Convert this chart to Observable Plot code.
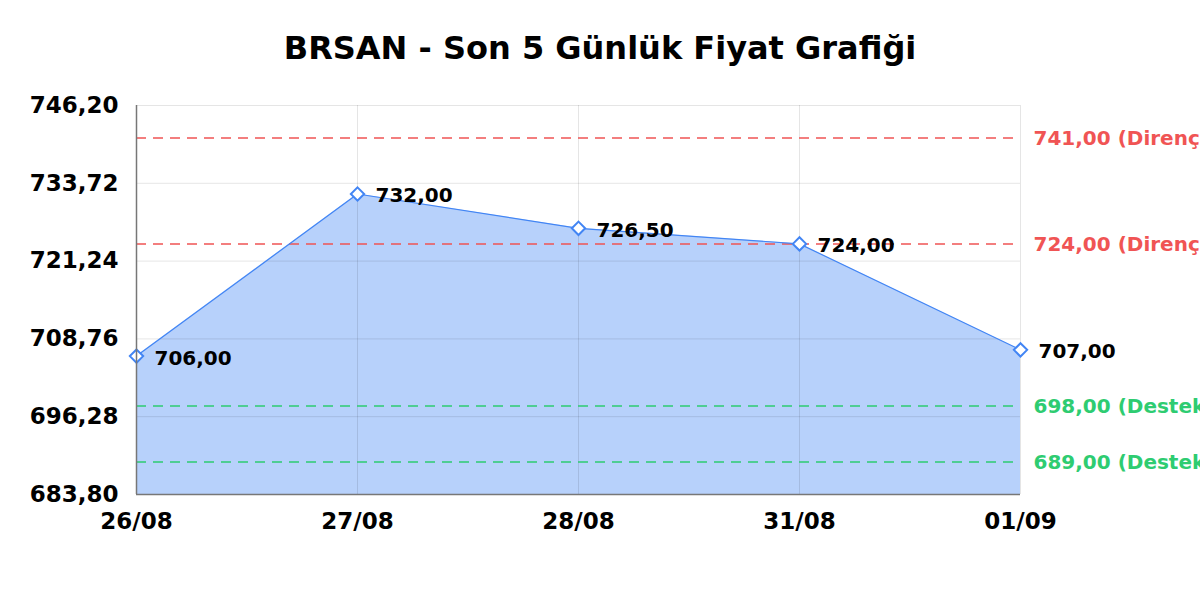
<!DOCTYPE html>
<html>
<head>
<meta charset="utf-8">
<script src="https://cdn.jsdelivr.net/npm/d3@7"></script>
<script src="https://cdn.jsdelivr.net/npm/@observablehq/plot@0.6"></script>
<style>
  html, body { margin: 0; padding: 0; background: #fff; overflow: hidden; width: 1200px; height: 600px; }
  #title { height: 80px; line-height: 96px; overflow: visible; text-align: center; font-family: "DejaVu Sans", sans-serif; font-weight: bold; font-size: 32px; color: #000; }
</style>
</head>
<body>
<div id="title">BRSAN - Son 5 Günlük Fiyat Grafiği</div>
<div id="chart"></div>
<script>
const dates = ["26/08", "27/08", "28/08", "31/08", "01/09"];
const prices = [706, 732, 726.5, 724, 707];
const yTicks = [683.8, 696.28, 708.76, 721.24, 733.72, 746.2];
const levelValues = [741, 724, 698, 689];
const levelTypes = ["Direnç", "Direnç", "Destek", "Destek"];

const fmt = v => v.toFixed(2).replace(".", ",");
const lineColor = "#4285f4";
const typeColor = {"Direnç": "#f05454", "Destek": "#2ecc71"};

const data = dates.map((d, i) => ({d, v: prices[i]}));
const levels = levelValues.map((v, i) => ({v, type: levelTypes[i]}));
const yMin = yTicks[0];
const yMax = yTicks[yTicks.length - 1];

const chart = Plot.plot({
  width: 1200,
  height: 520,
  marginTop: 25,
  marginBottom: 106,
  marginLeft: 136,
  marginRight: 180,
  x: {type: "point", domain: dates, padding: 0},
  y: {domain: [yMin, yMax]},
  color: {type: "identity"},
  style: {fontFamily: "DejaVu Sans, sans-serif", fontWeight: "bold", color: "#000", background: "#fff"},
  marks: [
    Plot.area(data, {x1: "d", y1: () => yMin, y2: "v", fill: lineColor, fillOpacity: 0.38}),
    Plot.gridY(yTicks, {stroke: "#000", strokeOpacity: 0.1, strokeWidth: 1}),
    Plot.gridX(dates, {stroke: "#000", strokeOpacity: 0.1, strokeWidth: 1}),
    Plot.ruleY(levels, {y: "v", stroke: d => typeColor[d.type], strokeDasharray: "10,7", strokeWidth: 1.5}),
    Plot.line(data, {x: "d", y: "v", stroke: lineColor, strokeWidth: 1.2}),
    Plot.dot(data, {x: "d", y: "v", symbol: "diamond2", r: 6, stroke: lineColor, fill: "white", strokeWidth: 2}),
    Plot.text(data, {x: "d", y: "v", text: d => fmt(d.v), textAnchor: "start", dx: 18, dy: 2, fontSize: 20, fill: "#000"}),
    Plot.text(levels, {y: "v", frameAnchor: "right", text: d => `${fmt(d.v)} (${d.type})`, textAnchor: "start", dx: 13, dy: 1, fontSize: 20, fill: d => typeColor[d.type]}),
    Plot.axisY({ticks: yTicks, tickFormat: fmt, tickSize: 0, tickPadding: 18, fontSize: 23, label: null}),
    Plot.axisX({tickSize: 0, tickPadding: 18, fontSize: 23, label: null}),
    Plot.ruleX([dates[0]], {stroke: "#777", strokeWidth: 1.5}),
    Plot.ruleY([yMin], {stroke: "#777", strokeWidth: 1.5})
  ]
});
document.getElementById("chart").appendChild(chart);
</script>
</body>
</html>
